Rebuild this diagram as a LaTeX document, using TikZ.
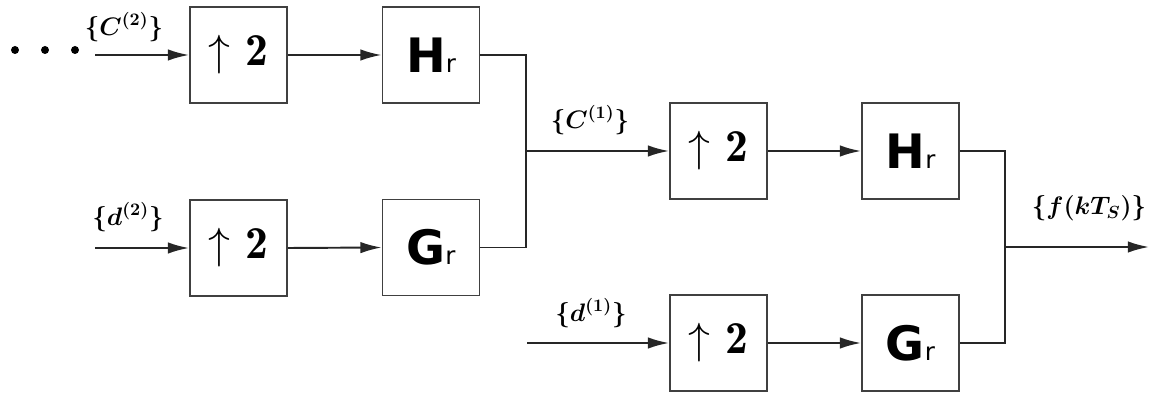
\documentclass[tikz,border=0pt]{standalone}
\usepackage{fontspec}
\newfontfamily\hgfont{DejaVu Sans}
\usetikzlibrary{arrows.meta}
\begin{document}
\begin{tikzpicture}[x=0.02cm,y=-0.02cm,
  blk/.style={draw=black!75,line width=1.1pt,minimum width=1.94cm,minimum height=1.92cm,inner sep=0pt},
  conn/.style={line width=1.1pt,draw=black!85},
  arr/.style={conn,-{Latex[length=12pt,width=6.5pt]}},
  lbl/.style={font=\fontsize{14}{16}\selectfont\boldmath,inner sep=0pt},
  dotc/.style={circle,fill=black,inner sep=0pt,minimum size=0.16cm}]
\newcommand{\hgtxt}[1]{{\hgfont\bfseries\fontsize{27}{30}\selectfont #1}{\hgfont\fontsize{14}{16}\selectfont r}}
\newcommand{\uptwo}{\raisebox{2.5pt}{{\fontsize{30}{32}\selectfont$\uparrow$}\hspace{9pt}{\fontsize{26}{28}\selectfont$\mathbf{2}$}}}
\useasboundingbox (0,0) rectangle (1149,394);
% blocks
\node[blk] (A1) at (238.5,55) {\uptwo};
\node[blk] (H1) at (431,55) {\hgtxt{H}};
\node[blk] (A2) at (238.5,248) {\uptwo};
\node[blk] (G1) at (431,247.5) {\hgtxt{G}};
\node[blk] (A3) at (718.5,151) {\uptwo};
\node[blk] (H2) at (910.5,151) {\hgtxt{H}};
\node[blk] (A4) at (718.5,343) {\uptwo};
\node[blk] (G2) at (910.5,343) {\hgtxt{G}};
% dots
\node[dotc] (d1p) at (15,50) {};
\node[dotc] (d2p) at (45,50) {};
\node[dotc] (d3p) at (75,50) {};
% inputs and junctions
\coordinate (inC2) at (95,55);
\coordinate (inD2) at (95,248);
\coordinate (inD1) at (527,343);
\coordinate (j1) at (526,151);
\coordinate (j2) at (1005,247);
\coordinate (out) at (1149,247);
% connectors
\draw[arr] (inC2) -- (A1.west);
\draw[arr] (A1.east) -- (H1.west);
\draw[arr] (inD2) -- (A2.west);
\draw[arr] (A2.east) -- (G1.west);
\draw[conn] (H1.east) -| (j1) |- (G1.east);
\draw[arr] (j1) -- (A3.west);
\draw[arr] (A3.east) -- (H2.west);
\draw[arr] (inD1) -- (A4.west);
\draw[arr] (A4.east) -- (G2.west);
\draw[conn] (H2.east) -| (j2) |- (G2.east);
\draw[arr] (j2) -- (out);
% labels
\node[lbl] (lC2) at (124,27) {$\{C^{(2)}\}$};
\node[lbl] (lD2) at (128,217) {$\{d^{(2)}\}$};
\node[lbl] (lC1) at (590,120) {$\{C^{(1)}\}$};
\node[lbl] (lD1) at (591,313) {$\{d^{(1)}\}$};
\node[lbl] (lF) at (1089,208) {$\{f(kT_S)\}$};
\end{tikzpicture}
\end{document}
